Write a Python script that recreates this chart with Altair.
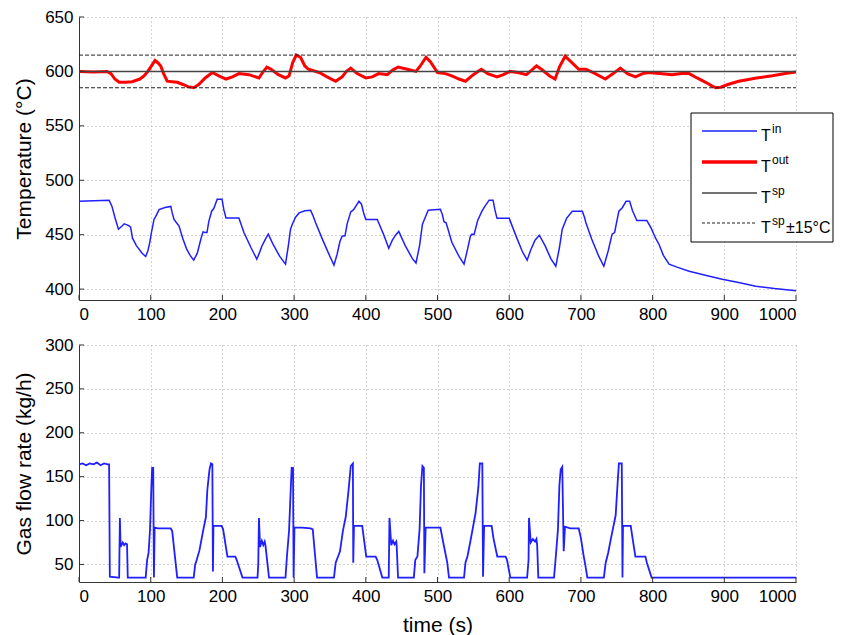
import altair as alt
import pandas as pd

# ---------------- data ----------------
tin_t = [0, 42, 46, 50, 55, 60, 63, 67, 70, 72, 74.5, 80, 88, 93, 96, 98.6, 101, 104.6, 108, 111.6,
         120, 128, 130, 132.5, 136, 139.5, 145, 150, 155, 160, 165, 170, 173, 176, 178.5, 181, 185,
         188, 192.7, 199.5, 202, 205, 223, 230, 240, 248, 252, 255, 260, 264, 270, 280, 288, 292,
         295, 297.5, 302, 307, 315, 323, 326, 330, 340, 350, 355.6, 360, 364, 367, 371, 374, 379,
         383, 390.5, 394, 397, 400, 416, 425, 432, 437, 442, 446, 455, 465, 470, 475, 479, 483, 487,
         504, 507, 509, 512, 520, 530, 537, 542, 546, 548, 551, 556, 562, 566, 572, 577.5, 580, 583,
         600, 610, 618, 625, 630, 636, 642, 650, 658, 665, 670, 674, 680, 688, 702, 705, 707, 715,
         725, 732, 738, 743.5, 747, 750, 753, 758, 763, 768, 772, 778, 792, 798, 804, 809, 815, 823,
         835, 851, 875, 897, 920, 944, 970, 1000]
tin_v = [480.7, 481.7, 476, 466, 455, 458, 460, 459, 458, 457, 447, 440, 433, 430, 435, 442.5, 452, 464, 468, 473,
         475, 476, 470, 464, 461, 458, 446, 437, 431, 426.6, 433, 446, 452.6, 452, 452, 462, 471.6,
         474, 482.5, 482.5, 473, 465.4, 465.4, 452, 438, 427.5, 434, 439.4, 446, 450.5, 442, 430, 423, 440,
         455, 459.6, 466, 470, 472, 472.5, 468, 461, 445, 430, 422, 432, 444, 448.6, 449, 460, 471,
         473, 480.7, 478, 470, 464, 464, 450, 437.6, 445, 450, 453, 440, 428, 424, 440, 459.6, 466, 472.5,
         473.4, 468, 462, 461, 443, 430, 423, 437, 449, 450.5, 450, 463, 471.6, 476, 481.7, 481.7, 473, 465,
         465, 448, 435, 426.6, 436, 445, 449.5, 440, 428, 421, 438, 455, 465, 471.6, 471.6, 466, 461, 446,
         430, 421, 435, 450.5, 452, 462, 471.6, 475, 480.7, 480.7, 472, 463, 463, 456, 447, 441, 431, 423,
         420, 416.5, 412.5, 409, 406, 402.7, 400.5, 398.5]

tout_t = [0, 20, 39, 44.6, 50, 56, 65, 74, 85, 91, 96, 100, 106, 110, 114, 118, 123, 130, 137, 145, 152,
          160, 167, 176, 186, 195, 205, 214, 223, 237, 251, 256, 262, 268, 278, 288, 293, 298, 303, 309,
          315, 320, 335, 346, 358, 367, 373, 379, 388, 400, 409, 418, 430, 437, 445, 458, 470, 476, 484,
          490, 500, 511, 520, 530, 539, 550, 561, 570, 583, 592, 601, 612, 624, 631, 638, 645, 656, 664,
          670, 678, 686, 697, 707, 720, 734, 745, 755, 765, 776, 786, 795, 810, 827, 840, 851, 862, 874,
          882, 888, 895, 905, 920, 945, 967, 985, 1000]
tout_v = [600, 599.5, 600, 598, 593, 590, 590, 590.5, 593, 596, 600, 604, 610, 608, 605, 598, 591, 590.5, 590, 588, 586,
          585, 588, 594, 599, 596, 593, 595, 598, 597, 594, 599, 604, 602, 597, 594, 596, 608, 615, 613,
          605, 602, 599, 595, 591, 595, 600, 603, 598, 594, 595, 598, 597, 601, 604, 602, 600, 605, 613,
          609, 599, 598, 596, 593, 591, 597, 602, 598, 595, 597, 600, 599, 597, 601, 605, 602, 596, 593,
          604, 614, 609, 602, 602, 598, 593, 598, 603, 598, 595, 598, 599, 598, 597, 598, 598, 594, 590,
          587, 585, 585.5, 588, 591, 594, 596, 598, 599.5]

flow_t = [0, 5, 10, 15, 20, 25, 30, 35, 40, 42,
          43, 55, 56, 57, 58, 61, 63, 65, 67, 68,
          93, 95, 97, 99, 101, 102, 103.5, 104.5, 105.5, 110, 128, 130, 137,
          160, 162, 163, 168, 173, 177, 179, 182, 184, 186, 186.8, 187.5, 199, 201, 207, 218, 220, 228,
          249, 250, 251, 252.5, 255, 257, 259, 260, 265,
          288, 290, 293, 295.5, 296.6, 298.5, 299.3, 300.5, 311, 323, 326, 332,
          355.6, 358, 364, 368, 372, 376, 379, 382, 382.5, 383.5, 395, 400.6, 413.7, 416, 423,
          432, 433, 435.5, 438, 440, 442.5, 443, 445,
          467, 469, 472, 475, 477, 479, 481, 481.7, 483.5, 504, 508, 513.6, 516,
          537, 539, 542, 546, 553, 557, 559, 562.5, 563.5, 565, 575.5, 578, 583.4, 595, 597, 601.6,
          625, 627, 627.6, 630, 633, 636, 638, 639, 640.6,
          662.5, 665, 668, 670, 671.8, 674, 676, 677.8, 685, 697, 700, 704, 706, 709,
          732, 734.6, 738, 742, 748.5, 751, 753, 757, 758, 758.7, 769.5, 772, 776, 790, 792, 798.6,
          1000]
flow_v = [164, 165, 163, 165, 164, 166, 163, 165, 164, 164,
          36, 35, 35, 103, 70, 75, 72, 74, 73, 35,
          35, 55, 63, 89, 140, 160, 160, 35, 92, 91, 91, 88, 35,
          35, 50, 52, 66, 88, 104, 135, 158, 165, 164, 42, 94, 94, 90, 59, 59, 55, 35,
          35, 50, 103, 70, 77, 72, 76, 72, 35,
          35, 59, 89, 140, 160, 160, 35, 92, 92, 91, 90, 35,
          35, 52, 65, 88, 104, 135, 162, 165, 52, 94, 94, 59, 59, 55, 35,
          35, 103, 72, 77, 73, 76, 72, 35,
          35, 55, 59, 90, 140, 162, 160, 40, 92, 92, 75, 52, 35,
          35, 52, 60, 77, 108, 138, 165, 165, 36, 94, 94, 80, 59, 59, 55, 35,
          35, 55, 103, 75, 79, 76, 79, 72, 35,
          35, 59, 90, 140, 158, 161, 65, 93, 91, 91, 80, 59, 50, 35,
          35, 52, 63, 80, 106, 140, 165, 165, 35, 94, 94, 80, 59, 59, 52, 35,
          35]

T_SP = 600
BAND = 15
x_ticks = list(range(0, 1001, 100))
temp_ticks = [400, 450, 500, 550, 600, 650]
flow_ticks = [50, 100, 150, 200, 250, 300]
legend_sup = ["in", "out", "sp", "sp"]
legend_suffix = ["", "", "", "\u00b115\u00b0C"]

# ---------------- layout / style ----------------
W, H1, H2 = 717, 283, 237
FONT = "Liberation Sans"

df_in = pd.DataFrame({"t": tin_t, "v": tin_v, "o": range(len(tin_t))})
df_out = pd.DataFrame({"t": tout_t, "v": tout_v, "o": range(len(tout_t))})
df_flow = pd.DataFrame({"t": flow_t, "v": flow_v, "o": range(len(flow_t))})
df_sp = pd.DataFrame({"t": [0, 1000], "v": [T_SP, T_SP]})
df_band = pd.DataFrame({"t": [0, 1000, 0, 1000],
                        "v": [T_SP - BAND, T_SP - BAND, T_SP + BAND, T_SP + BAND],
                        "g": ["lo", "lo", "hi", "hi"]})
df_xt = pd.DataFrame({"t": x_ticks})
df_tt = pd.DataFrame({"v": temp_ticks})
df_ft = pd.DataFrame({"v": flow_ticks})

xscale = alt.Scale(domain=[0, 1000], nice=False, zero=False)
x_top = alt.X("t:Q", scale=xscale, axis=alt.Axis(values=x_ticks, title=None, format="d"))
x_bot = alt.X("t:Q", scale=xscale, axis=alt.Axis(values=x_ticks, title="time (s)", format="d"))
y_top = alt.Y("v:Q", scale=alt.Scale(domain=[390, 650], nice=False, zero=False),
              axis=alt.Axis(values=temp_ticks, title="Temperature (\u00b0C)"))
y_bot = alt.Y("v:Q", scale=alt.Scale(domain=[30, 300], nice=False, zero=False),
              axis=alt.Axis(values=flow_ticks, title="Gas flow rate (kg/h)"))


def line(df, color, width, dash=None, detail=None, x=x_top, y=y_top):
    kw = dict(color=color, strokeWidth=width, clip=True)
    if dash:
        kw["strokeDash"] = dash
    enc = dict(x=x, y=y, order="o:Q") if "o" in df.columns else dict(x=x, y=y)
    if detail:
        enc["detail"] = detail
    return alt.Chart(df).mark_line(**kw).encode(**enc)


def inner_ticks(df_x, df_y, h, x, y):
    tx = alt.Chart(df_x).mark_rule(color="#333333", strokeWidth=1).encode(
        x=x, y=alt.value(h - 5), y2=alt.value(h))
    ty = alt.Chart(df_y).mark_rule(color="#333333", strokeWidth=1).encode(
        y=y, x=alt.value(0), x2=alt.value(5))
    return [tx, ty]


one = alt.Data(values=[{}])

# custom legend (box, samples, labels with superscripts)
LX0, LX1, LY0, LY1 = 612, 754, 96, 225
rows_y = [114, 145, 176, 206]
samples = [dict(color="#1f1fff", strokeWidth=1.5),
           dict(color="#ff0000", strokeWidth=3.5),
           dict(color="#444444", strokeWidth=1.5),
           dict(color="#222222", strokeWidth=1, strokeDash=[3, 2])]
legend_layers = [alt.Chart(one).mark_rect(fill="white", stroke="black", strokeWidth=1).encode(
    x=alt.value(LX0), x2=alt.value(LX1), y=alt.value(LY0), y2=alt.value(LY1))]
for ry, st, sup, suf in zip(rows_y, samples, legend_sup, legend_suffix):
    legend_layers.append(alt.Chart(one).mark_rule(**st).encode(
        x=alt.value(623), x2=alt.value(678), y=alt.value(ry)))
    legend_layers.append(alt.Chart(one).mark_text(
        align="left", baseline="middle", font=FONT, fontSize=16, color="black").encode(
        x=alt.value(682), y=alt.value(ry + 5), text=alt.value("T")))
    legend_layers.append(alt.Chart(one).mark_text(
        align="left", baseline="middle", font=FONT, fontSize=12, color="black").encode(
        x=alt.value(693), y=alt.value(ry - 2), text=alt.value(sup)))
    if suf:
        legend_layers.append(alt.Chart(one).mark_text(
            align="left", baseline="middle", font=FONT, fontSize=16, color="black").encode(
            x=alt.value(707), y=alt.value(ry + 5), text=alt.value(suf)))

top = alt.layer(
    line(df_in, "#1f1fff", 1.5),
    line(df_out, "#ff0000", 3),
    line(df_sp, "#444444", 1.5),
    line(df_band, "#222222", 1, dash=[4, 2], detail="g:N"),
    *inner_ticks(df_xt, df_tt, H1, x_top, y_top),
    *legend_layers,
).properties(width=W, height=H1)

bottom = alt.layer(
    line(df_flow, "#1f1fff", 1.8, x=x_bot, y=y_bot),
    *inner_ticks(df_xt, df_ft, H2, x_bot, y_bot),
).properties(width=W, height=H2)

chart = alt.vconcat(top, bottom, spacing=14).properties(
    padding={"left": 5, "top": 0, "right": 0, "bottom": 0},
    background="white",
).configure_axis(
    labelFont=FONT, labelFontSize=17, labelColor="black", labelPadding=6,
    titleFont=FONT, titleFontSize=21, titleFontWeight="normal", titleColor="black",
    titlePadding=10,
    grid=True, gridColor="#a8a8a8", gridDash=[1, 3], gridWidth=1,
    ticks=False, domainColor="#333333", domainWidth=1,
).configure_view(stroke=None)

chart.save("out.html", embed_options={"renderer": "svg", "actions": False})
